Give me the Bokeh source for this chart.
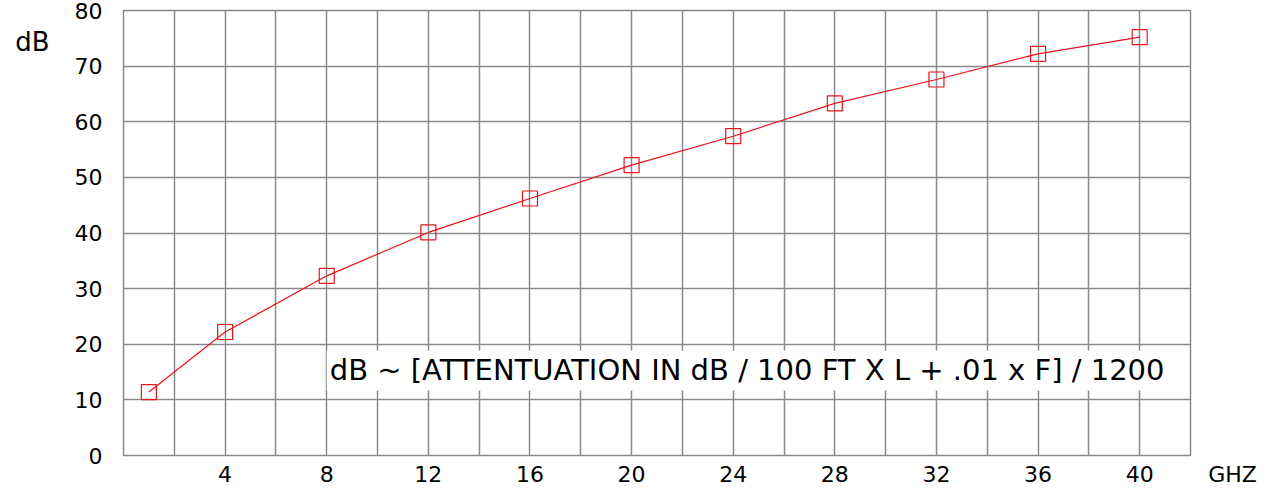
from bokeh.plotting import figure
from bokeh.models import FixedTicker, Label, Range1d, LinearAxis
from bokeh.layouts import row
from bokeh.embed import file_html
from bokeh.resources import INLINE

freq_ghz = [1, 4, 8, 12, 16, 20, 24, 28, 32, 36, 40]
loss_db = [11.4, 22.2, 32.3, 40.1, 46.2, 52.2, 57.4, 63.3, 67.6, 72.2, 75.2]
x_tick_labels = [4, 8, 12, 16, 20, 24, 28, 32, 36, 40]
y_ticks = [0, 10, 20, 30, 40, 50, 60, 70, 80]
formula = "dB ~ [ATTENTUATION IN dB / 100 FT  X  L + .01 x F] / 1200"
y_unit = "dB"
x_unit = "GHZ"

FONT = "DejaVu Sans"
GRID = "#8a8a8a"
TOP = 10
BOTTOM = 33

p = figure(width=1194, height=489, output_backend="svg", toolbar_location=None,
           x_range=Range1d(0, 42), y_range=Range1d(0, 80),
           min_border_left=123, min_border_right=4, min_border_top=TOP, min_border_bottom=BOTTOM)

p.outline_line_color = GRID
p.outline_line_width = 1.5

p.xaxis.ticker = FixedTicker(ticks=x_tick_labels)
p.yaxis.ticker = FixedTicker(ticks=y_ticks)
p.xgrid.ticker = FixedTicker(ticks=list(range(0, 43, 2)))
p.ygrid.ticker = FixedTicker(ticks=y_ticks)
for g in (p.xgrid, p.ygrid):
    g.grid_line_color = GRID
    g.grid_line_width = 1.5

for ax in (p.xaxis, p.yaxis):
    ax.axis_line_color = None
    ax.major_tick_line_color = None
    ax.minor_tick_line_color = None
    ax.major_label_text_font = FONT
    ax.major_label_text_color = "black"
p.yaxis.major_label_text_font_size = "22px"
p.xaxis.major_label_text_font_size = "22px"
p.xaxis.major_label_standoff = 4
p.yaxis.major_label_standoff = 15

# unit label "dB" on an outer left axis with one tick
unit_axis = LinearAxis(ticker=FixedTicker(ticks=[74.3]),
                       major_label_overrides={74.3: y_unit},
                       axis_line_color=None, major_tick_line_color=None,
                       minor_tick_line_color=None,
                       major_label_text_font=FONT, major_label_text_font_size="26px",
                       major_label_text_color="black", major_label_standoff=16)
p.add_layout(unit_axis, "left")

p.line(freq_ghz, loss_db, line_color="#e8141c", line_width=1.2)
p.scatter(freq_ghz, loss_db, marker="square", size=15, fill_color=None,
          line_color="#e8141c", line_width=1.2)

p.add_layout(Label(x=8.0, y=15.3, text=formula, text_font=FONT, text_font_size="29px",
                   text_baseline="middle", text_color="black",
                   background_fill_color="white", padding=3))

# right strip holding the x unit label on its own one-tick axis
p2 = figure(width=80, height=489, output_backend="svg", toolbar_location=None,
            title=None, y_axis_location=None,
            x_range=Range1d(0, 80), y_range=Range1d(0, 1),
            min_border_left=0, min_border_right=0,
            min_border_top=TOP, min_border_bottom=BOTTOM)
p2.grid.visible = False
p2.outline_line_color = None
p2.xaxis.ticker = FixedTicker(ticks=[38])
p2.xaxis.major_label_overrides = {38: x_unit}
p2.xaxis.axis_line_color = None
p2.xaxis.major_tick_line_color = None
p2.xaxis.minor_tick_line_color = None
p2.xaxis.major_label_text_font = FONT
p2.xaxis.major_label_text_font_size = "22px"
p2.xaxis.major_label_text_color = "black"
p2.xaxis.major_label_standoff = 0

layout = row(p, p2, spacing=0)
open("out.html", "w").write(file_html(layout, INLINE))
